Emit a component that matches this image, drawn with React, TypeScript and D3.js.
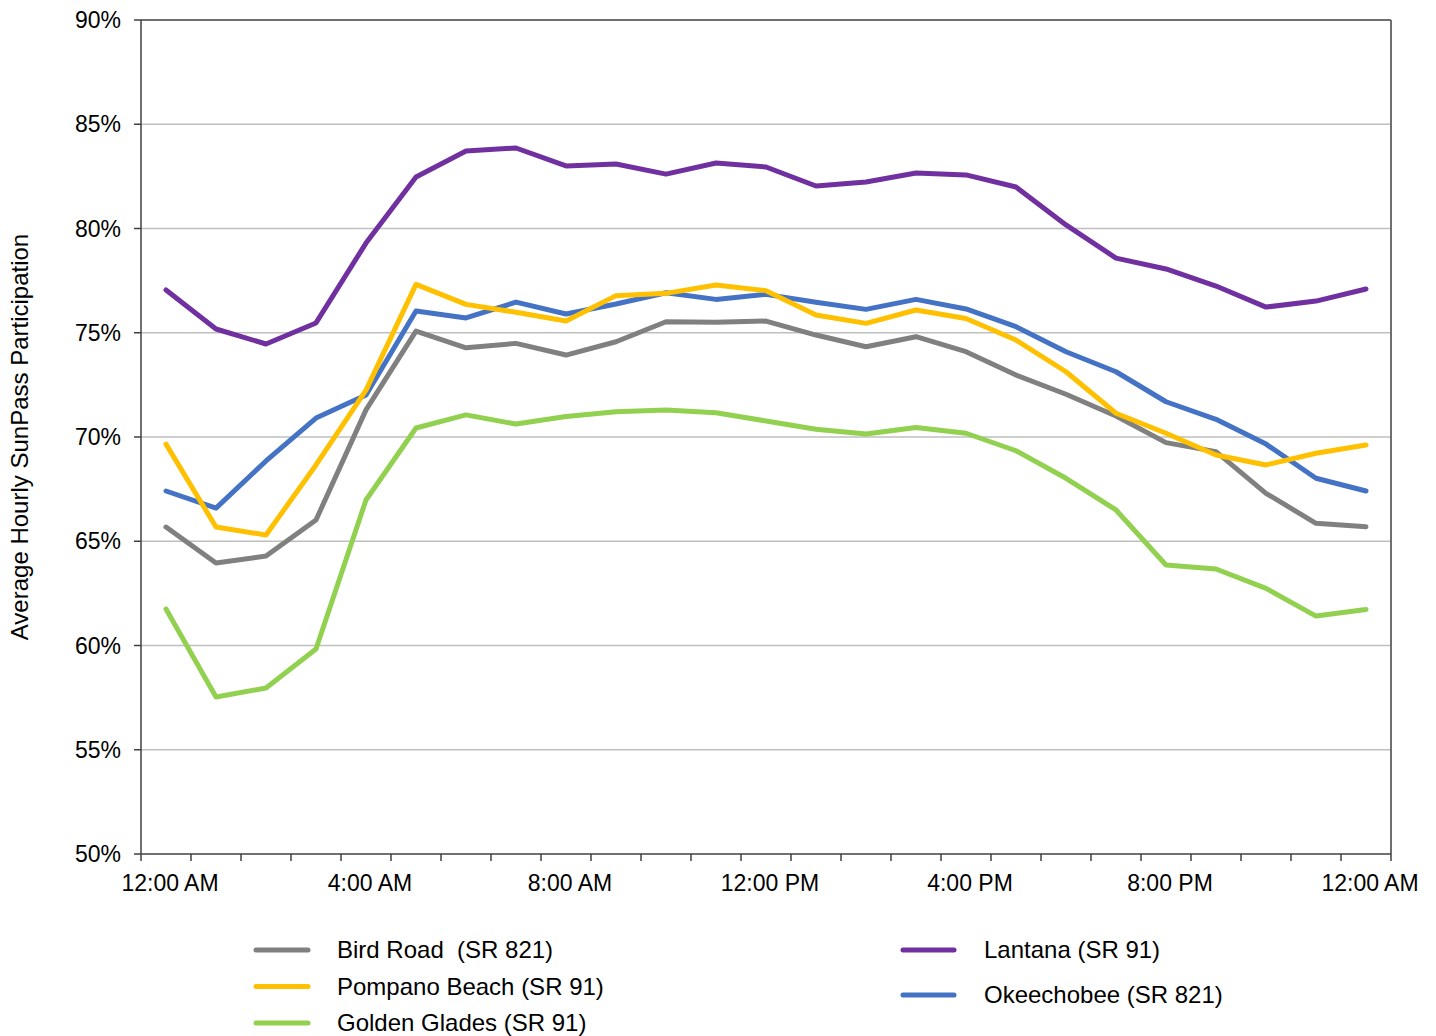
import React from "react";
import * as d3 from "d3";

const hours = d3.range(25);
const tickLabels = ["12:00 AM", "4:00 AM", "8:00 AM", "12:00 PM", "4:00 PM", "8:00 PM", "12:00 AM"];
const yTicks = [50, 55, 60, 65, 70, 75, 80, 85, 90];

const birdRoad = [65.68, 63.96, 64.29, 66.02, 71.3, 75.08, 74.28, 74.49, 73.93, 74.57, 75.53, 75.5, 75.56, 74.89, 74.33, 74.81, 74.09, 72.97, 72.05, 71.01, 69.73, 69.3, 67.3, 65.86, 65.7];
const pompanoBeach = [69.66, 65.68, 65.3, 68.66, 72.25, 77.32, 76.36, 75.98, 75.56, 76.78, 76.89, 77.29, 77.02, 75.85, 75.45, 76.09, 75.68, 74.65, 73.13, 71.14, 70.18, 69.14, 68.66, 69.22, 69.62];
const goldenGlades = [61.75, 57.53, 57.96, 59.83, 66.98, 70.43, 71.06, 70.62, 70.98, 71.21, 71.29, 71.16, 70.77, 70.37, 70.14, 70.46, 70.18, 69.34, 68.02, 66.5, 63.86, 63.67, 62.74, 61.41, 61.73];
const lantana = [77.05, 75.18, 74.46, 75.47, 79.3, 82.47, 83.72, 83.86, 83.0, 83.09, 82.61, 83.14, 82.95, 82.04, 82.23, 82.66, 82.57, 81.99, 80.17, 78.58, 78.06, 77.24, 76.23, 76.52, 77.1];
const okeechobee = [67.41, 66.59, 68.85, 70.91, 72.01, 76.04, 75.71, 76.47, 75.9, 76.38, 76.92, 76.6, 76.84, 76.46, 76.12, 76.6, 76.14, 75.29, 74.09, 73.13, 71.69, 70.85, 69.66, 68.02, 67.41];

const series = [
  { name: "Bird Road  (SR 821)", values: birdRoad, color: "#808080" },
  { name: "Pompano Beach (SR 91)", values: pompanoBeach, color: "#FFC000" },
  { name: "Golden Glades (SR 91)", values: goldenGlades, color: "#92D050" },
  { name: "Lantana (SR 91)", values: lantana, color: "#7030A0" },
  { name: "Okeechobee (SR 821)", values: okeechobee, color: "#4472C4" },
];

const drawOrder = [2, 0, 4, 1, 3];

export default function App() {
  const W = 1436, H = 1036;
  const left = 141, right = 1391, top = 20, bottom = 854;
  const x = d3.scaleBand<number>().domain(hours).range([left, right]).padding(0);
  const cx = (i: number) => (x(i) as number) + x.bandwidth() / 2;
  const y = d3.scaleLinear().domain([50, 90]).range([bottom, top]);
  const line = (vals: number[]) =>
    d3.line<number>().x((_, i) => cx(i)).y((v) => y(v))(vals) as string;
  const font = "'Liberation Sans', Arial, sans-serif";
  const boundaries = d3.range(26).map((k) => left + k * x.bandwidth());
  const leftLegend = series.slice(0, 3);
  const rightLegend = series.slice(3);
  return (
    <svg width={W} height={H} style={{ position: "absolute", left: 0, top: 0 }} fontFamily={font}>
      <rect x={0} y={0} width={W} height={H} fill="#fff" />
      {yTicks.map((t) => (
        <g key={t}>
          {t !== 50 && t !== 90 && (
            <line x1={left} x2={right} y1={y(t)} y2={y(t)} stroke="#BFBFBF" strokeWidth={1.5} />
          )}
          <line x1={left - 7} x2={left} y1={y(t)} y2={y(t)} stroke="#404040" strokeWidth={1.5} />
          <text x={121} y={y(t)} dy="0.35em" textAnchor="end" fontSize={23} fill="#000">
            {t}%
          </text>
        </g>
      ))}
      <line x1={left} x2={right} y1={top} y2={top} stroke="#6f6f6f" strokeWidth={2} />
      <line x1={right} x2={right} y1={top} y2={bottom} stroke="#6f6f6f" strokeWidth={2} />
      <line x1={left} x2={left} y1={top} y2={bottom} stroke="#404040" strokeWidth={1.5} />
      <line x1={left} x2={right} y1={bottom} y2={bottom} stroke="#404040" strokeWidth={1.5} />
      {boundaries.map((bx, k) => (
        <line key={k} x1={bx} x2={bx} y1={bottom} y2={bottom + 7} stroke="#404040" strokeWidth={1.5} />
      ))}
      {tickLabels.map((lab, k) => (
        <text key={k} x={cx(k * 4) + 4} y={891} textAnchor="middle" fontSize={23} fill="#000">
          {lab}
        </text>
      ))}
      <text
        transform={`translate(28,437) rotate(-90)`}
        textAnchor="middle"
        fontSize={24}
        fill="#000"
      >
        Average Hourly SunPass Participation
      </text>
      {drawOrder.map((si) => (
        <path
          key={si}
          d={line(series[si].values)}
          fill="none"
          stroke={series[si].color}
          strokeWidth={5}
          strokeLinejoin="round"
          strokeLinecap="round"
        />
      ))}
      {leftLegend.map((s, k) => (
        <g key={s.name}>
          <line x1={256} x2={308} y1={950 + k * 36.5} y2={950 + k * 36.5} stroke={s.color} strokeWidth={5} strokeLinecap="round" />
          <text x={337} y={950 + k * 36.5} dy="0.35em" fontSize={24} fill="#000" style={{ whiteSpace: "pre" }}>
            {s.name}
          </text>
        </g>
      ))}
      {rightLegend.map((s, k) => (
        <g key={s.name}>
          <line x1={903} x2={954} y1={950 + k * 45} y2={950 + k * 45} stroke={s.color} strokeWidth={5} strokeLinecap="round" />
          <text x={984} y={950 + k * 45} dy="0.35em" fontSize={24} fill="#000" style={{ whiteSpace: "pre" }}>
            {s.name}
          </text>
        </g>
      ))}
    </svg>
  );
}
